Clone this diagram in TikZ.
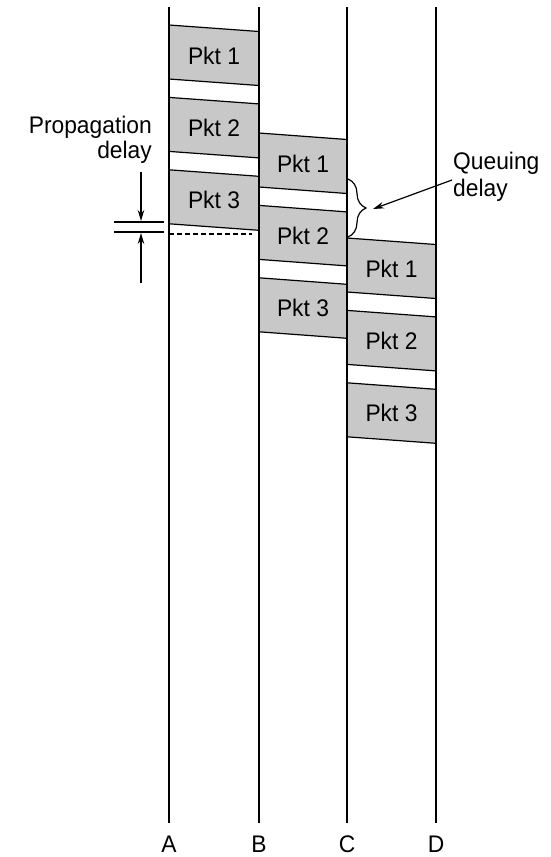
\documentclass[tikz,border=0pt]{standalone}
\usepackage{fontspec}
\setmainfont[FakeStretch=0.95]{Liberation Sans}
\usetikzlibrary{arrows.meta,decorations.pathreplacing}
\definecolor{pktgray}{RGB}{200,200,200}
\tikzset{
  lbl/.style={font=\fontsize{24}{26}\selectfont, inner sep=0pt},
  pktbox/.style={draw=black, line width=1.2pt, fill=pktgray},
  wire/.style={line width=1.2pt},
  arr/.style={line width=1.2pt, -{Stealth[length=11pt,width=6.5pt]}}
}
\begin{document}
\begin{tikzpicture}[x=1pt,y=-1pt]
\useasboundingbox (0,0) rectangle (551,857);
% packets
\foreach \col/\L/\R/\T in {A/169/259/25, B/259/347/133, C/347/436/238} {
  \foreach \i in {1,2,3} {
    \pgfmathsetmacro\t{\T+(\i-1)*72.4}
    \draw[pktbox] (\L,\t) -- (\R,\t+6.5) -- (\R,\t+60.5) -- (\L,\t+54) -- cycle;
    \node[lbl] (\col\i) at ({(\L+\R)/2},\t+30.5) {Pkt \i};
  }
}
% vertical time lines
\foreach \n/\x in {A/169, B/259, C/347, D/436} {
  \coordinate (\n top) at (\x,7);
  \coordinate (\n bot) at (\x,823);
  \draw[wire] (\n top) -- (\n bot);
  \node[lbl] (\n) at (\x,844) {\n};
}
% propagation delay
\coordinate (dl) at (169,234);
\coordinate (dr) at (252,234);
\draw[wire, dash pattern=on 5pt off 3pt] (dl) -- (dr);
\coordinate (p1l) at (114,222); \coordinate (p1r) at (164,222);
\coordinate (p2l) at (114,232); \coordinate (p2r) at (164,232);
\draw[wire] (p1l) -- (p1r);
\draw[wire] (p2l) -- (p2r);
\coordinate (pa1) at (141,172); \coordinate (pa1e) at (141,221);
\coordinate (pa2) at (141,283); \coordinate (pa2e) at (141,233);
\draw[arr] (pa1) -- (pa1e);
\draw[arr] (pa2) -- (pa2e);
\node[lbl, align=right, anchor=east, font=\fontsize{24}{25}\selectfont] (prop) at (152,139.5) {Propagation\\delay};
% queuing delay
\coordinate (bt) at (348,179);
\coordinate (bb) at (348,237);
\draw[wire, decorate, decoration={brace, amplitude=18pt}] (bt) -- (bb);
\node[lbl, align=left, anchor=west, font=\fontsize{24}{27}\selectfont] (queue) at (453,176.5) {Queuing\\delay};
\coordinate (qs) at (452,180);
\coordinate (qe) at (373,209);
\draw[arr] (qs) -- (qe);
\end{tikzpicture}
\end{document}
